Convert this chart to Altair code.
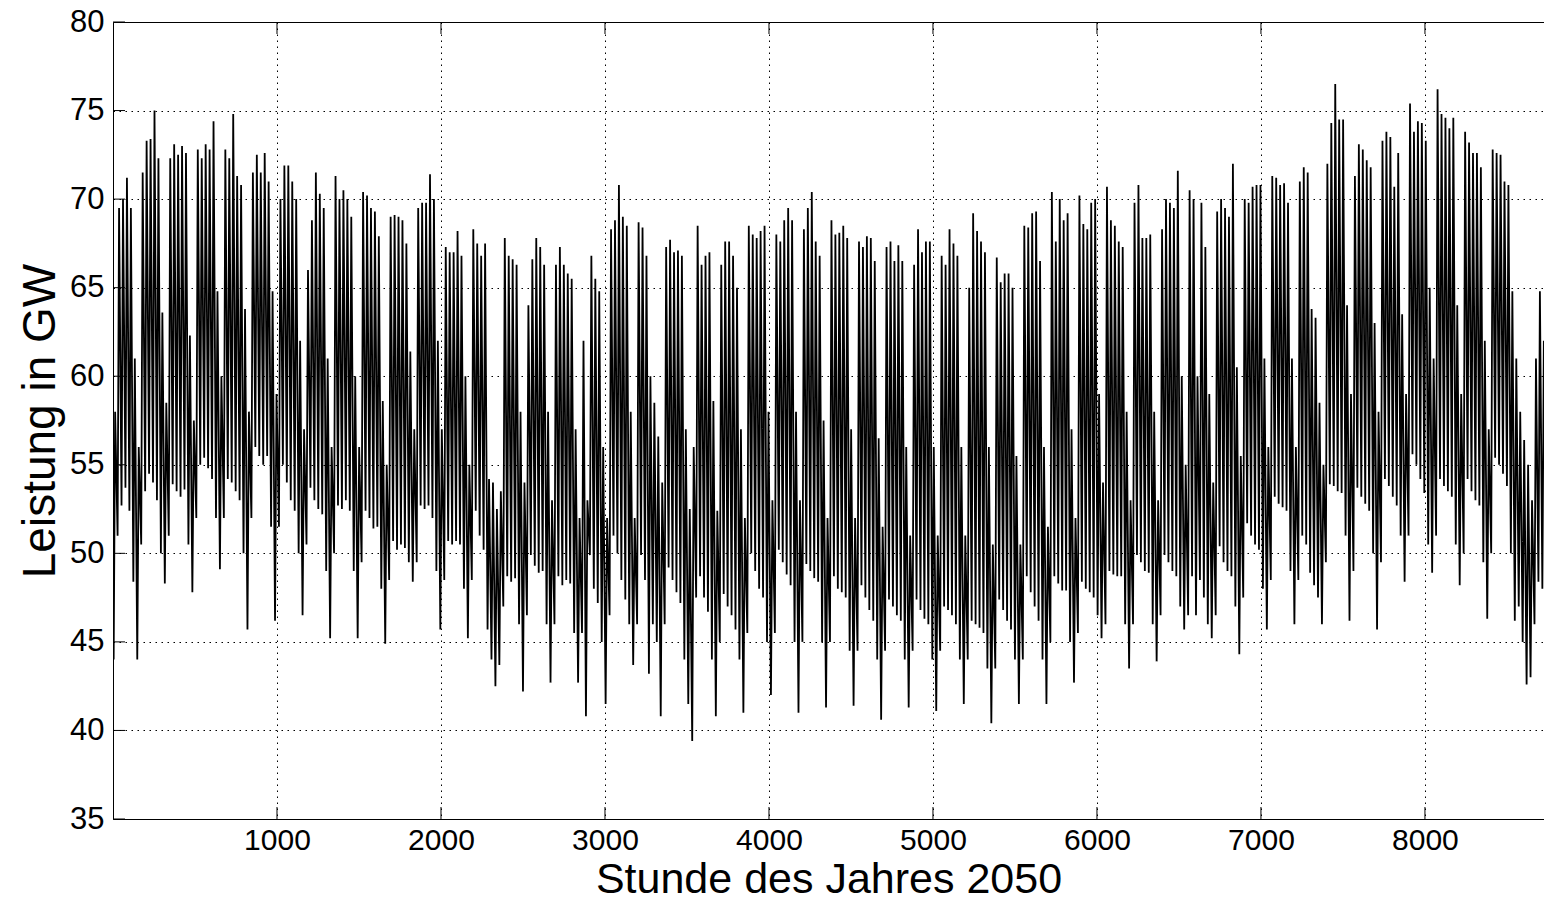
import altair as alt
import pandas as pd

# Daily peak (max) and night trough (min) of the load in GW.
# One row per week, day 0 = first day of the year (positions 5,6 = weekend).
week_max = [
    [58.0, 69.5, 70.0, 71.2, 69.5, 61.0, 56.0],
    [71.5, 73.3, 73.4, 75.0, 72.3, 63.6, 58.5],
    [72.3, 73.1, 72.5, 73.0, 72.6, 62.3, 57.5],
    [72.8, 72.3, 73.1, 72.8, 74.4, 64.8, 60.0],
    [72.8, 72.3, 74.8, 71.3, 70.8, 63.8, 58.0],
    [71.5, 72.5, 71.5, 72.6, 71.0, 64.8, 59.0],
    [70.0, 71.9, 71.9, 71.0, 70.0, 62.0, 57.0],
    [66.0, 68.8, 71.5, 70.3, 69.5, 61.0, 56.0],
    [71.3, 70.0, 70.5, 70.0, 69.0, 60.0, 56.0],
    [70.4, 70.2, 69.5, 69.3, 67.9, 58.6, 55.0],
    [69.0, 69.1, 69.0, 68.8, 67.5, 61.4, 57.0],
    [69.5, 69.8, 69.8, 71.4, 70.0, 62.0, 57.0],
    [67.3, 67.0, 67.0, 68.2, 66.8, 60.0, 55.0],
    [68.3, 67.5, 66.8, 67.5, 54.2, 54.0, 52.5],
    [53.5, 67.8, 66.8, 66.6, 66.3, 58.0, 54.0],
    [64.0, 66.6, 67.8, 67.3, 66.3, 58.0, 53.0],
    [66.3, 67.3, 66.3, 65.8, 65.5, 57.0, 52.0],
    [62.0, 53.0, 66.8, 65.5, 64.8, 56.0, 52.0],
    [68.3, 68.8, 70.8, 69.0, 68.5, 58.0, 52.0],
    [68.7, 68.4, 66.8, 60.0, 58.5, 56.6, 54.0],
    [67.3, 67.7, 67.0, 67.1, 66.8, 57.0, 52.5],
    [56.0, 68.5, 66.3, 66.8, 67.0, 58.6, 52.4],
    [66.3, 67.6, 67.6, 66.8, 65.0, 57.0, 52.0],
    [68.5, 68.0, 67.8, 68.2, 68.5, 58.0, 53.0],
    [68.0, 67.6, 68.8, 69.5, 68.8, 58.0, 53.0],
    [68.3, 69.5, 70.4, 67.6, 66.8, 57.5, 52.0],
    [68.8, 68.0, 68.1, 68.5, 67.8, 57.0, 52.0],
    [67.6, 67.3, 67.9, 67.8, 66.5, 56.5, 51.5],
    [67.3, 67.6, 66.5, 67.4, 66.5, 56.0, 51.0],
    [66.3, 68.3, 67.0, 67.6, 67.6, 56.0, 51.0],
    [66.8, 66.3, 68.3, 67.5, 66.8, 56.0, 51.0],
    [65.0, 69.2, 68.2, 67.6, 67.0, 56.0, 50.5],
    [66.7, 65.3, 65.8, 65.8, 65.0, 55.5, 50.5],
    [68.5, 68.4, 69.2, 69.3, 66.5, 56.0, 51.5],
    [70.4, 67.6, 70.0, 68.8, 69.2, 57.0, 52.0],
    [70.2, 68.6, 68.3, 69.8, 70.0, 59.0, 54.0],
    [70.7, 68.8, 68.5, 67.6, 67.3, 58.0, 53.0],
    [69.8, 70.8, 67.8, 67.8, 68.0, 58.0, 53.0],
    [68.3, 70.0, 69.8, 69.5, 71.6, 60.0, 55.0],
    [70.5, 70.0, 60.0, 69.8, 67.3, 59.0, 54.0],
    [69.3, 70.0, 69.5, 69.0, 72.0, 60.5, 55.5],
    [70.0, 69.8, 70.7, 70.8, 70.8, 61.0, 56.0],
    [71.3, 71.2, 70.8, 70.9, 69.8, 61.0, 56.0],
    [71.0, 71.8, 71.5, 63.8, 63.3, 58.5, 55.0],
    [72.0, 74.3, 76.5, 74.5, 74.5, 64.0, 59.0],
    [71.3, 73.1, 72.8, 72.2, 71.8, 63.0, 58.0],
    [73.3, 73.8, 73.5, 70.7, 72.6, 63.5, 59.0],
    [75.4, 73.8, 74.4, 74.3, 73.3, 65.0, 61.0],
    [76.2, 74.8, 74.6, 74.0, 74.6, 64.0, 59.0],
    [73.8, 73.2, 72.6, 72.6, 71.8, 62.0, 57.0],
    [72.8, 72.6, 72.5, 71.0, 70.8, 64.8, 61.0],
    [58.0, 56.4, 55.0, 53.0, 61.0, 64.8, 62.0],
    [60.0],
]
week_min = [
    [44.0, 51.0, 52.7, 53.7, 52.4, 48.4, 44.0],
    [50.5, 53.5, 54.5, 54.0, 53.0, 50.0, 48.3],
    [51.0, 53.9, 53.5, 53.2, 53.6, 50.5, 47.8],
    [52.0, 55.0, 55.4, 54.8, 54.2, 52.0, 49.1],
    [52.0, 54.2, 54.0, 53.5, 53.0, 50.0, 45.7],
    [52.0, 56.0, 55.5, 55.0, 55.5, 51.5, 46.2],
    [51.5, 55.0, 54.0, 53.0, 52.4, 50.0, 46.5],
    [50.5, 53.7, 53.0, 52.5, 52.2, 49.0, 45.2],
    [50.0, 52.7, 52.5, 53.0, 52.4, 49.0, 45.2],
    [49.5, 52.4, 52.0, 51.4, 51.5, 48.0, 44.9],
    [48.5, 50.7, 50.2, 50.5, 50.3, 49.5, 48.4],
    [49.5, 52.7, 52.5, 52.7, 52.0, 49.0, 45.7],
    [48.5, 50.7, 50.5, 50.7, 50.5, 48.0, 45.2],
    [48.5, 52.4, 51.0, 50.2, 45.7, 44.0, 42.5],
    [43.7, 47.0, 48.7, 48.4, 48.6, 46.0, 42.2],
    [46.5, 49.9, 49.3, 48.9, 49.0, 46.0, 42.7],
    [46.0, 48.7, 48.2, 48.5, 48.3, 45.5, 42.7],
    [45.5, 40.8, 49.9, 48.0, 47.2, 45.0, 41.5],
    [46.5, 51.0, 50.0, 48.5, 47.4, 46.0, 43.7],
    [46.0, 49.9, 48.5, 43.2, 46.0, 45.0, 40.8],
    [46.0, 49.2, 48.5, 47.8, 47.2, 44.0, 41.5],
    [39.4, 47.5, 48.7, 47.5, 46.7, 44.0, 40.8],
    [45.0, 47.7, 47.0, 46.5, 45.7, 44.0, 41.0],
    [45.5, 50.0, 49.0, 48.0, 47.5, 45.0, 42.0],
    [45.5, 50.2, 49.5, 48.8, 48.2, 45.0, 41.0],
    [45.0, 49.4, 49.0, 48.6, 48.4, 45.0, 41.3],
    [45.0, 48.7, 48.0, 47.8, 47.5, 44.5, 41.4],
    [44.5, 48.2, 47.5, 46.8, 46.2, 44.0, 40.6],
    [44.5, 47.4, 47.0, 46.5, 46.2, 44.0, 41.3],
    [44.5, 47.4, 46.8, 46.3, 46.0, 44.0, 41.1],
    [44.5, 47.0, 46.8, 46.5, 46.0, 44.0, 41.5],
    [44.0, 46.2, 46.0, 45.8, 45.5, 43.5, 40.4],
    [43.5, 47.4, 46.8, 46.2, 45.7, 44.0, 41.5],
    [44.0, 48.7, 47.8, 47.0, 46.2, 44.0, 41.5],
    [45.0, 48.7, 48.3, 47.9, 47.9, 45.0, 42.7],
    [45.5, 48.4, 48.0, 47.8, 47.5, 46.5, 45.2],
    [46.0, 49.0, 48.8, 48.7, 48.7, 46.0, 43.5],
    [46.0, 49.9, 49.5, 49.0, 48.9, 46.0, 43.9],
    [46.5, 49.9, 49.5, 49.0, 48.7, 47.0, 45.7],
    [46.5, 48.7, 46.5, 48.5, 47.5, 46.0, 45.2],
    [46.5, 50.4, 49.5, 49.0, 48.7, 47.0, 44.3],
    [47.5, 51.7, 51.0, 50.5, 50.2, 48.0, 45.7],
    [48.5, 53.2, 52.8, 52.6, 52.4, 49.0, 46.0],
    [48.5, 51.0, 50.5, 48.9, 48.2, 47.5, 46.0],
    [49.5, 53.9, 53.8, 53.5, 53.4, 51.0, 46.2],
    [49.0, 53.7, 53.2, 52.8, 52.4, 50.0, 45.7],
    [49.5, 54.2, 53.8, 53.2, 52.7, 51.0, 48.4],
    [51.0, 55.6, 55.0, 54.2, 53.4, 50.5, 48.9],
    [51.0, 54.2, 53.8, 53.5, 53.2, 50.5, 48.2],
    [50.0, 54.2, 53.5, 53.0, 52.7, 49.5, 46.3],
    [50.0, 55.4, 55.0, 54.5, 53.8, 50.0, 46.2],
    [47.0, 45.0, 42.6, 43.0, 46.0, 48.4, 48.0],
    [47.0],
]
x_ticks = [1000, 2000, 3000, 4000, 5000, 6000, 7000, 8000]
y_ticks = [35, 40, 45, 50, 55, 60, 65, 70, 75, 80]

daily_max = [v for row in week_max for v in row]
daily_min = [v for row in week_min for v in row]

rows = []
for d, (lo, hi) in enumerate(zip(daily_min, daily_max)):
    rows.append({"h": 24 * d + 4, "p": lo})
    rows.append({"h": 24 * d + 13, "p": hi})
df = pd.DataFrame(rows)

FONT = "Liberation Sans"
W, H = 1431, 797
xscale = alt.Scale(domain=[0, 8726], nice=False, zero=False)
yscale = alt.Scale(domain=[35, 80], nice=False, zero=False)

line = alt.Chart(df).mark_line(color="black", strokeWidth=1.8, clip=True).encode(
    x=alt.X("h:Q", scale=xscale,
            axis=alt.Axis(values=x_ticks, title="Stunde des Jahres 2050", format="d",
                          grid=True, ticks=False, domain=False, labelPadding=6,
                          titlePadding=3, labelFontSize=30, titleFontSize=43)),
    y=alt.Y("p:Q", scale=yscale,
            axis=alt.Axis(values=y_ticks, title="Leistung in GW", format="d",
                          grid=True, ticks=False, domain=False, labelPadding=9,
                          titlePadding=5, labelFontSize=31, titleFontSize=46)),
)

ydf = pd.DataFrame({"v": y_ticks})
xdf = pd.DataFrame({"v": x_ticks})
ytick = alt.Chart(ydf).mark_rule(color="black", strokeWidth=1).encode(
    y=alt.Y("v:Q", scale=yscale), x=alt.value(0), x2=alt.value(12))
xtick_b = alt.Chart(xdf).mark_rule(color="black", strokeWidth=1).encode(
    x=alt.X("v:Q", scale=xscale), y=alt.value(H), y2=alt.value(H - 12))
xtick_t = alt.Chart(xdf).mark_rule(color="black", strokeWidth=1).encode(
    x=alt.X("v:Q", scale=xscale), y=alt.value(0), y2=alt.value(12))

chart = alt.layer(line, ytick, xtick_b, xtick_t).properties(
    width=W, height=H,
    autosize=alt.AutoSizeParams(type="none"),
    padding={"left": 113, "top": 22, "right": 0, "bottom": 86},
    background="white",
).configure_view(
    stroke="black", strokeWidth=1
).configure_axis(
    labelFont=FONT, titleFont=FONT, labelColor="black", titleColor="black",
    titleFontWeight="normal", gridColor="black", gridDash=[1.5, 4.5],
    gridOpacity=1, gridWidth=1,
)

chart.save("out.html", embed_options={"renderer": "svg", "actions": False})
